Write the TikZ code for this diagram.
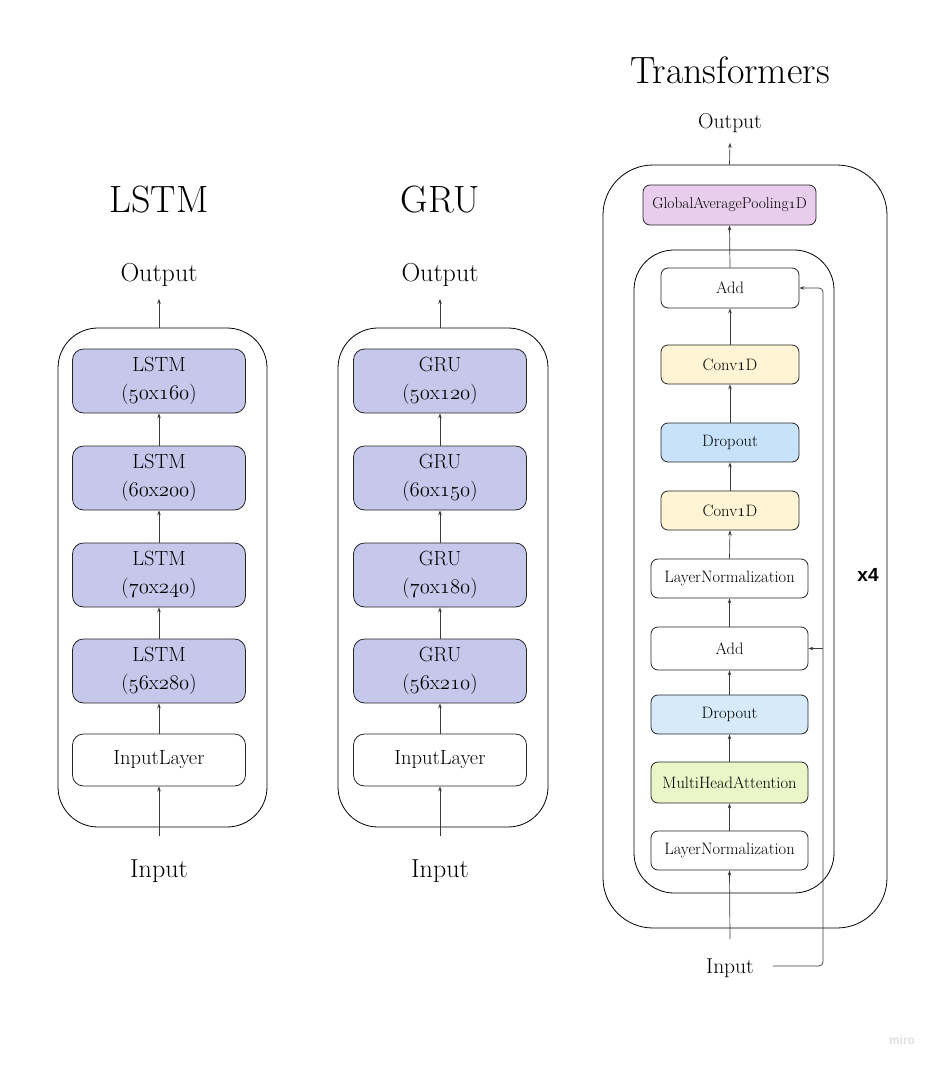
\documentclass[tikz,border=0pt]{standalone}
\usepackage{fontspec}
\newfontfamily\xsans{Liberation Sans}
\usetikzlibrary{arrows.meta}
\definecolor{lstmc}{RGB}{197,200,234}
\definecolor{gapc}{RGB}{232,205,236}
\definecolor{convc}{RGB}{255,244,212}
\definecolor{dropa}{RGB}{199,226,250}
\definecolor{dropb}{RGB}{214,234,250}
\definecolor{mhac}{RGB}{234,245,200}
\definecolor{linec}{RGB}{60,60,60}
\newcommand{\osn}[1]{{\usefont{OML}{cmm}{m}{it}#1}}
\begin{document}
\begin{tikzpicture}[x=1pt,y=-1pt,
  frame/.style={draw=black, line width=0.8pt, rounded corners=#1, minimum width=0pt},
  rbox/.style={draw=black!85, line width=0.8pt, rounded corners=11pt, fill=lstmc,
    minimum width=173pt, minimum height=64pt, align=center, inner sep=0pt,
    font=\fontsize{20.5}{28}\selectfont},
  ibox/.style={rbox, fill=white, minimum height=52pt},
  tbox/.style={draw=black!85, line width=0.8pt, rounded corners=7pt, fill=white,
    minimum width=138pt, minimum height=39pt, inner sep=0pt,
    font=\fontsize{16.5}{18}\selectfont},
  wbox/.style={tbox, minimum width=157pt},
  lbl/.style={font=\fontsize{26}{30}\selectfont, inner sep=0pt},
  tlbl/.style={font=\fontsize{21.5}{24}\selectfont, inner sep=0pt},
  ttl/.style={font=\fontsize{38}{42}\selectfont, inner sep=0pt},
  arr/.style={draw=linec, line width=0.7pt, -{Stealth[length=5pt,width=3.6pt]}},
  ln/.style={draw=linec, line width=0.7pt}
]
\useasboundingbox[fill=white] (0,0) rectangle (938,1065);

% ---------- LSTM ----------
\node[ttl] (lt) at (159,200) {LSTM};
\node[lbl] (lo) at (159,275) {Output};
\node[frame=40pt, minimum width=209pt, minimum height=499pt] (lf) at (162.5,577.5) {};
\node[rbox] (l1) at (159,381) {LSTM\\(\osn{50}x\osn{160})};
\node[rbox] (l2) at (159,478) {LSTM\\(\osn{60}x\osn{200})};
\node[rbox] (l3) at (159,575) {LSTM\\(\osn{70}x\osn{240})};
\node[rbox] (l4) at (159,671) {LSTM\\(\osn{56}x\osn{280})};
\node[ibox] (li) at (159,760) {InputLayer};
\node[lbl] (lin) at (159,871) {Input};
\coordinate (ls) at (159,836);
\draw[arr] (ls) -- (li.south);
\draw[arr] (li.north) -- (l4.south);
\draw[arr] (l4.north) -- (l3.south);
\draw[arr] (l3.north) -- (l2.south);
\draw[arr] (l2.north) -- (l1.south);
\draw[arr] (l1.north |- lf.north) -- ([yshift=-12pt]lo.south);

% ---------- GRU ----------
\node[ttl] (gt) at (440,200) {GRU};
\node[lbl] (go) at (440,275) {Output};
\node[frame=40pt, minimum width=210pt, minimum height=499pt] (gf) at (443,577.5) {};
\node[rbox] (g1) at (440,381) {GRU\\(\osn{50}x\osn{120})};
\node[rbox] (g2) at (440,478) {GRU\\(\osn{60}x\osn{150})};
\node[rbox] (g3) at (440,575) {GRU\\(\osn{70}x\osn{180})};
\node[rbox] (g4) at (440,671) {GRU\\(\osn{56}x\osn{210})};
\node[ibox] (gi) at (440,760) {InputLayer};
\node[lbl] (gin) at (440,871) {Input};
\coordinate (gs) at (440,836);
\draw[arr] (gs) -- (gi.south);
\draw[arr] (gi.north) -- (g4.south);
\draw[arr] (g4.north) -- (g3.south);
\draw[arr] (g3.north) -- (g2.south);
\draw[arr] (g2.north) -- (g1.south);
\draw[arr] (g1.north |- gf.north) -- ([yshift=-12pt]go.south);

% ---------- Transformers ----------
\node[ttl] (tt) at (730,70) {Transformers};
\node[tlbl] (to) at (730,123) {Output};
\node[frame=50pt, minimum width=284pt, minimum height=763pt] (tf) at (745,546.5) {};
\node[frame=40pt, minimum width=200pt, minimum height=643pt] (tg) at (734,571.5) {};
\node[tbox, fill=gapc, minimum width=173pt, minimum height=40pt, font=\fontsize{15.5}{18}\selectfont] (gap) at (729.5,205) {GlobalAveragePooling\osn{1}D};
\node[tbox, minimum height=40pt] (a1) at (730,288) {Add};
\node[tbox, fill=convc] (c1) at (730,364.5) {Conv\osn{1}D};
\node[tbox, fill=dropa] (d1) at (730,442.5) {Dropout};
\node[tbox, fill=convc] (c2) at (730,510.5) {Conv\osn{1}D};
\node[wbox] (n1) at (729.5,578.5) {LayerNormalization};
\node[wbox, minimum height=43pt] (a2) at (729.5,648.5) {Add};
\node[wbox, fill=dropb] (d2) at (729.5,714.5) {Dropout};
\node[wbox, fill=mhac, minimum height=41pt] (m) at (729.5,782.5) {MultiHeadAttention};
\node[wbox] (n2) at (729.5,850.5) {LayerNormalization};
\node[tlbl] (tin) at (730,968) {Input};
\node[font=\xsans\bfseries\fontsize{19}{22}\selectfont, inner sep=0pt] (x4) at (868,575) {x4};

\coordinate (ts) at (730,939);
\draw[arr] (ts) -- (n2.south);
\draw[arr] (n2.north) -- (m.south);
\draw[arr] (m.north) -- (d2.south);
\draw[arr] (d2.north) -- (a2.south);
\draw[arr] (a2.north) -- (n1.south);
\draw[arr] (n1.north) -- (c2.south);
\draw[arr] (c2.north) -- (d1.south);
\draw[arr] (d1.north) -- (c1.south);
\draw[arr] (c1.north) -- (a1.south);
\draw[arr] (a1.north) -- (gap.south);
\draw[arr] (gap.north |- tf.north) -- ([yshift=-10pt]to.south);

\coordinate (r0) at (773,966);
\coordinate (r1) at (823,966);
\coordinate (r2) at (823,288);
\coordinate (rb) at (823,648.5);
\draw[arr, rounded corners=4pt] (r0) -- (r1) -- (r2) -- (a1.east);
\draw[arr] (rb) -- (a2.east);

\node[font=\xsans\bfseries\fontsize{12}{14}\selectfont, text=black!12, inner sep=0pt] (miro) at (902,1040) {miro};
\end{tikzpicture}
\end{document}
